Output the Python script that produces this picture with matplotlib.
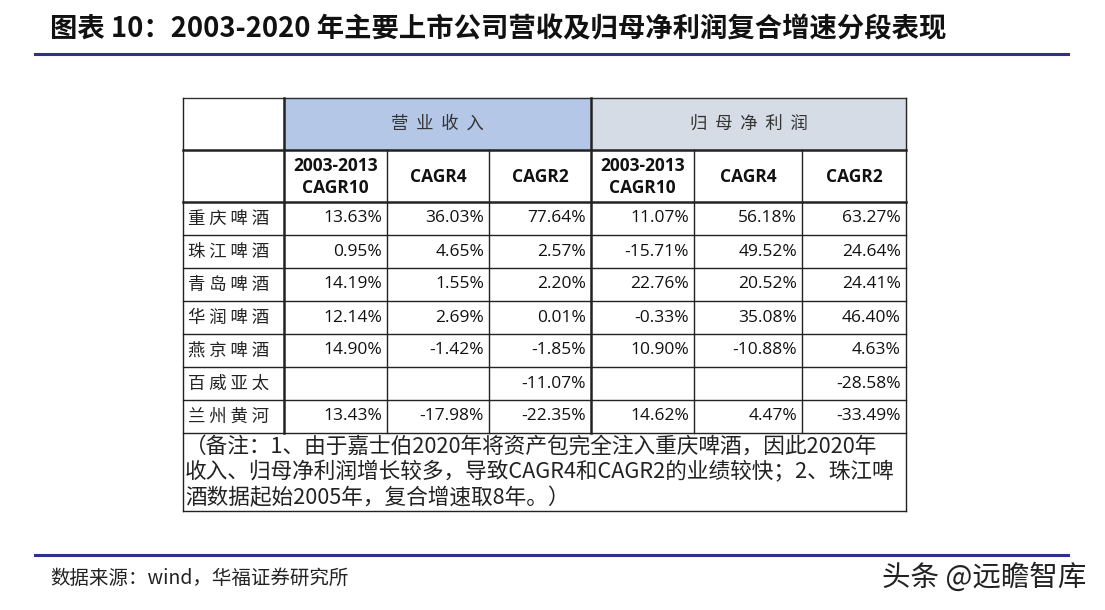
import matplotlib.pyplot as plt
from matplotlib.patches import Rectangle

plt.rcParams['font.family'] = ['Noto Sans CJK SC', 'DejaVu Sans']

title = "图表 10：2003-2020 年主要上市公司营收及归母净利润复合增速分段表现"
source = "数据来源：wind，华福证券研究所"
mark = "头条 @远瞻智库"

groups = ["营业收入", "归母净利润"]
subcols = ["2003-2013\nCAGR10", "CAGR4", "CAGR2", "2003-2013\nCAGR10", "CAGR4", "CAGR2"]
companies = ["重庆啤酒", "珠江啤酒", "青岛啤酒", "华润啤酒", "燕京啤酒", "百威亚太", "兰州黄河"]
rev_cagr10 = ["13.63%", "0.95%", "14.19%", "12.14%", "14.90%", "", "13.43%"]
rev_cagr4 = ["36.03%", "4.65%", "1.55%", "2.69%", "-1.42%", "", "-17.98%"]
rev_cagr2 = ["77.64%", "2.57%", "2.20%", "0.01%", "-1.85%", "-11.07%", "-22.35%"]
np_cagr10 = ["11.07%", "-15.71%", "22.76%", "-0.33%", "10.90%", "", "14.62%"]
np_cagr4 = ["56.18%", "49.52%", "20.52%", "35.08%", "-10.88%", "", "4.47%"]
np_cagr2 = ["63.27%", "24.64%", "24.41%", "46.40%", "4.63%", "-28.58%", "-33.49%"]
note = ["（备注：1、由于嘉士伯2020年将资产包完全注入重庆啤酒，因此2020年",
        "收入、归母净利润增长较多，导致CAGR4和CAGR2的业绩较快；2、珠江啤",
        "酒数据起始2005年，复合增速取8年。）"]

# layout (pixels)
xs = [183, 284, 387, 489, 591, 694, 802, 906]
y_top, y_h1, y_h2 = 98, 150, 202
row_h = 33
n = len(companies)
y_note_bot = 511

fig = plt.figure(figsize=(11.05, 6.10), dpi=100)
ax = fig.add_axes([0, 0, 1, 1])
ax.set_xlim(0, 1105)
ax.set_ylim(610, 0)
ax.axis('off')

ax.text(50, 29, title, fontsize=19.7, fontweight='bold', va='center', ha='left', color='#111111')
ax.plot([35, 1068], [54, 54], color='#2E3192', lw=2.2)
ax.plot([35, 1068], [555, 555], color='#2E3192', lw=2.2)
ax.text(50, 578, source, fontsize=14, va='center', ha='left', color='#222222')
ax.text(1086, 578, mark, fontsize=20.5, va='center', ha='right', color='#222222')

# header fills
ax.add_patch(Rectangle((xs[1], y_top), xs[4] - xs[1], y_h1 - y_top, color='#B4C7E7', zorder=1))
ax.add_patch(Rectangle((xs[4], y_top), xs[7] - xs[4], y_h1 - y_top, color='#D6DCE5', zorder=1))
ax.text((xs[1] + xs[4]) / 2, (y_top + y_h1) / 2, "  ".join(groups[0]), fontsize=12.5,
        ha='center', va='center', color='#333333', zorder=3)
ax.text((xs[4] + xs[7]) / 2, (y_top + y_h1) / 2, "  ".join(groups[1]), fontsize=12.5,
        ha='center', va='center', color='#333333', zorder=3)

for j, lab in enumerate(subcols):
    ax.text((xs[j + 1] + xs[j + 2]) / 2, (y_h1 + y_h2) / 2 + 1, lab, fontsize=12.5, fontweight='bold',
            family=['Open Sans', 'DejaVu Sans'], ha='center', va='center', linespacing=1.35,
            color='#111111', zorder=3)

cols = [rev_cagr10, rev_cagr4, rev_cagr2, np_cagr10, np_cagr4, np_cagr2]
for i, name in enumerate(companies):
    yc = y_h2 + row_h * (i + 0.5)
    ax.text(xs[0] + 5, yc, " ".join(name), fontsize=12.5, ha='left', va='center', color='#222222', zorder=3)
    for j, col in enumerate(cols):
        ax.text(xs[j + 2] - 5, yc, col[i], fontsize=12.5, family=['Open Sans', 'DejaVu Sans'],
                ha='right', va='center', color='#111111', zorder=3)

y_bot = y_h2 + row_h * n
for k, line in enumerate(note):
    ax.text(xs[0] + 2, y_bot + 14 + k * 25.5, line, fontsize=15.6, ha='left', va='center',
            color='#222222', zorder=3)

# grid lines
lw_thin, lw_thick = 1.0, 1.8
ax.plot([xs[0], xs[-1]], [y_top, y_top], color='#333333', lw=lw_thin, zorder=4)
ax.plot([xs[0], xs[-1]], [y_h1, y_h1], color='#222222', lw=lw_thick, zorder=4)
ax.plot([xs[0], xs[-1]], [y_h2, y_h2], color='#222222', lw=lw_thick, zorder=4)
for i in range(1, n + 1):
    ax.plot([xs[0], xs[-1]], [y_h2 + row_h * i] * 2, color='#222222', lw=lw_thin, zorder=4)
ax.plot([xs[0], xs[-1]], [y_note_bot, y_note_bot], color='#222222', lw=lw_thin, zorder=4)
for j, x in enumerate(xs):
    if j in (0, 7):
        ax.plot([x, x], [y_top, y_note_bot], color='#222222', lw=lw_thin, zorder=4)
    elif j in (1, 4):
        ax.plot([x, x], [y_top, y_bot], color='#222222', lw=lw_thick, zorder=4)
    else:
        ax.plot([x, x], [y_h1, y_bot], color='#222222', lw=lw_thin, zorder=4)

fig.savefig('out.png', dpi=100, facecolor='white')
